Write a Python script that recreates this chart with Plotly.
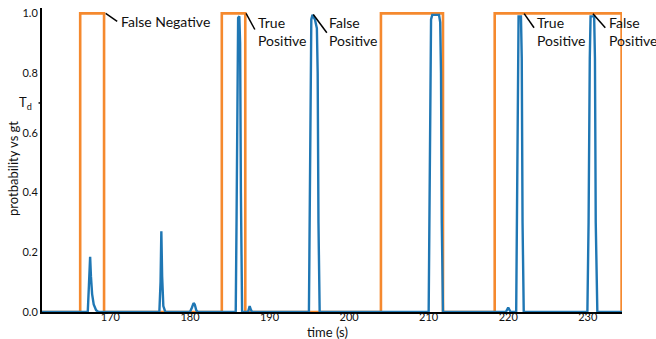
import plotly.graph_objects as go

# ---- data ----
gt_start = [166.2, 184.0, 204.0, 218.3]
gt_end = [169.2, 186.95, 211.8, 234.25]
t_min, t_max = 161.4, 234.3

prob_t = [161.4, 167.15, 167.3, 167.4, 167.45, 167.55, 167.7, 167.9, 168.2, 168.5,
          176.15, 176.3, 176.4, 176.5, 176.65, 176.9,
          180.0, 180.25, 180.45, 180.6, 180.8, 181.0,
          185.75, 185.85, 185.95, 186.05, 186.2, 186.3, 186.4, 186.55,
          187.3, 187.4, 187.5, 187.65, 187.8,
          194.95, 195.05, 195.15, 195.25, 195.4, 195.7, 195.95, 196.05, 196.15, 196.3,
          210.0, 210.1, 210.2, 210.3, 210.45, 211.3, 211.45, 211.55, 211.65, 211.8,
          219.7, 219.9, 220.0, 220.1, 220.3,
          221.0, 221.1, 221.2, 221.3, 221.6, 221.7, 221.8, 221.95,
          229.95, 230.1, 230.25, 230.35, 230.8, 230.9, 231.0, 231.2,
          234.3]
prob_v = [0, 0, 0.09, 0.17, 0.185, 0.12, 0.06, 0.025, 0.006, 0,
          0, 0.1, 0.27, 0.12, 0.02, 0,
          0, 0.015, 0.03, 0.025, 0.005, 0,
          0, 0.3, 0.8, 0.985, 0.99, 0.9, 0.4, 0,
          0, 0.018, 0.02, 0.008, 0,
          0, 0.3, 0.8, 0.98, 0.995, 0.98, 0.95, 0.8, 0.3, 0,
          0, 0.3, 0.8, 0.98, 0.995, 0.995, 0.97, 0.8, 0.3, 0,
          0, 0.01, 0.015, 0.01, 0,
          0, 0.3, 0.85, 0.99, 0.99, 0.85, 0.3, 0,
          0, 0.3, 0.85, 0.99, 0.99, 0.85, 0.3, 0,
          0]

x_ticks = [170, 180, 190, 200, 210, 220, 230]
y_ticks = [0.0, 0.2, 0.4, 0.6, 0.8, 1.0]
threshold_td = 0.7

# callouts: label, leader start (x,y), leader end (x,y), text x, text y
callout_text = ["False Negative", "True<br>Positive", "False<br>Positive", "True<br>Positive", "False<br>Positive"]
callout_x0 = [169.4, 187.05, 195.5, 222.0, 230.65]
callout_y0 = [1.0, 1.0, 0.996, 0.999, 0.999]
callout_x1 = [170.85, 188.15, 197.2, 223.25, 232.2]
callout_y1 = [0.973, 0.946, 0.935, 0.952, 0.952]
callout_tx = [171.1, 188.3, 197.2, 223.4, 232.4]
callout_ty = [0.972, 0.939, 0.939, 0.939, 0.939]

# ---- build ground-truth step line ----
gt_x = [t_min]
gt_y = [0]
for s, e in zip(gt_start, gt_end):
    gt_x += [s, s, e, e]
    gt_y += [0, 1, 1, 0]
gt_x.append(t_max)
gt_y.append(0)

FONT = "Lato, 'Open Sans', sans-serif"
PLOT_H = 339 - 8 - 27

fig = go.Figure()
fig.add_trace(go.Scatter(x=gt_x, y=gt_y, mode="lines",
                         line=dict(color="#F5892E", width=2.6), showlegend=False))
fig.add_trace(go.Scatter(x=prob_t, y=prob_v, mode="lines",
                         line=dict(color="#1F77B4", width=2.4),
                         showlegend=False))

for i, txt in enumerate(callout_text):
    fig.add_shape(type="line", xref="x", yref="y",
                  x0=callout_x0[i], y0=callout_y0[i], x1=callout_x1[i], y1=callout_y1[i],
                  line=dict(color="black", width=1.5))
    fig.add_annotation(x=callout_tx[i], y=callout_ty[i], xref="x", yref="y",
                       text=txt, showarrow=False, xanchor="left", yanchor="middle",
                       align="left", font=dict(family=FONT, size=14, color="#111"))

# T_d marker
fig.add_shape(type="line", xref="paper", yref="y", x0=-0.006, x1=0, y0=threshold_td, y1=threshold_td,
              line=dict(color="black", width=1.5))
fig.add_annotation(x=-0.014, y=threshold_td, xref="paper", yref="y", text="T<sub>d</sub>",
                   showarrow=False, xanchor="right", yanchor="middle",
                   font=dict(family=FONT, size=13, color="#111"))

# axis titles
fig.add_annotation(x=(327 - 42) / 580, y=-(332 - 312) / PLOT_H, xref="paper", yref="paper",
                   text="time (s)", showarrow=False, xanchor="center", yanchor="middle",
                   font=dict(family=FONT, size=13, color="#111"))
fig.add_annotation(x=-(42 - 3) / 580, y=(312 - 169) / PLOT_H, xref="paper", yref="paper",
                   text="protbability vs gt", showarrow=False, textangle=-90,
                   xanchor="left", yanchor="middle",
                   font=dict(family=FONT, size=13, color="#111"))

fig.update_layout(
    width=656, height=339,
    margin=dict(l=42, r=34, t=8, b=27),
    paper_bgcolor="white", plot_bgcolor="white",
    font=dict(family=FONT, size=11, color="#111"),
)
fig.update_xaxes(range=[t_min, t_max], tickvals=x_ticks, showgrid=False, zeroline=False,
                 showline=True, linecolor="black", linewidth=2, ticks="",
                 tickfont=dict(size=11), ticklabelstandoff=-6, automargin=False)
fig.update_yaxes(range=[0, 1.018], tickvals=y_ticks, tickformat=".1f", showgrid=False, zeroline=False,
                 showline=True, linecolor="black", linewidth=2, ticks="",
                 tickfont=dict(size=11), ticklabelstandoff=0, automargin=False)

fig.write_html("out.html", config={"displayModeBar": False},
               post_script="document.body.style.margin='0';document.body.style.overflow='hidden';")
